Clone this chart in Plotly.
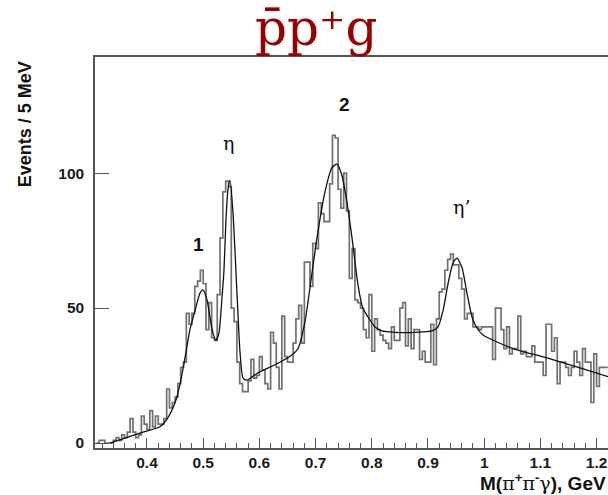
import plotly.graph_objects as go

# ---------------- data ----------------
bin_start = 0.31      # GeV, lower edge of first bin
bin_width = 0.005     # 5 MeV bins

events = [
    0, 1, 1, 0, 0, 0, 1, 2, 1, 3,
    2, 4, 9, 4, 2, 3, 10, 7, 5, 12,
    6, 10, 7, 7, 9, 20, 13, 15, 17, 22,
    28, 30, 48, 44, 48, 58, 60, 64, 59, 42,
    52, 39, 38, 55, 76, 93, 97, 95, 50, 45,
    30, 22, 19, 19, 23, 31, 24, 25, 32, 27,
    22, 20, 41, 37, 28, 20, 47, 32, 30, 30,
    37, 46, 51, 37, 67, 67, 58, 74, 72, 89,
    85, 82, 82, 96, 114, 113, 94, 87, 100, 86,
    61, 72, 53, 52, 50, 42, 39, 55, 34, 46,
    42, 40, 38, 37, 35, 43, 38, 38, 50, 52,
    36, 46, 35, 42, 42, 31, 34, 30, 30, 44,
    29, 46, 56, 57, 64, 68, 70, 66, 66, 61,
    57, 46, 48, 48, 43, 43, 42, 43, 43, 43,
    43, 31, 50, 50, 42, 35, 43, 33, 35, 35,
    47, 33, 34, 32, 32, 36, 30, 30, 30, 25,
    44, 44, 34, 39, 22, 30, 30, 28, 25, 28,
    34, 30, 25, 35, 30, 30, 15, 33, 21, 28,
    28, 28,
]

fit_mass = [0.334, 0.3875, 0.423, 0.437, 0.450, 0.459, 0.468, 0.4765, 0.4854,
            0.4943, 0.4996, 0.5068, 0.512, 0.5174, 0.5228, 0.528, 0.5335, 0.537,
            0.5405, 0.544, 0.5477, 0.553, 0.560, 0.5655, 0.571, 0.578, 0.5975,
            0.628, 0.658, 0.6687, 0.681, 0.6936, 0.704, 0.7167, 0.729, 0.738,
            0.747, 0.7559, 0.7648, 0.7755, 0.784, 0.7932, 0.8057, 0.818, 0.8413,
            0.8769, 0.9071, 0.9178, 0.9267, 0.9356, 0.9445, 0.9516, 0.9605,
            0.9694, 0.9783, 0.9872, 0.9979, 1.0068, 1.0512, 1.1117, 1.1705, 1.2203]
fit_events = [0, 3.7, 6, 9.3, 15, 22, 32, 42, 49,
              55.5, 56.7, 53, 46.7, 40.7, 38, 40.7, 54, 64,
              82.6, 93.7, 97.4, 85.5, 56, 33.7, 24, 23.3, 26,
              29, 32.6, 35, 44.8, 63, 78, 93, 102, 103.3,
              99, 89, 76, 58.5, 50, 46.7, 43, 41.5, 41,
              41, 41.5, 43, 49, 59, 66.7, 68.5, 65,
              55.5, 46.7, 42.6, 40, 39, 35, 31.5, 27.8, 24.6]

peak_labels = ["1", "η", "2", "η’"]
peak_x = [0.4925, 0.5456, 0.7509, 0.9605]
peak_y = [73.7, 111.0, 125.5, 87.4]
peak_bold = [True, False, True, False]

# ---------------- figure ----------------
edges = [bin_start + i * bin_width for i in range(len(events) + 1)]
step_y = events + [events[-1]]

fig = go.Figure()
fig.add_trace(go.Scatter(
    x=edges, y=step_y, mode="lines", line_shape="hv",
    line=dict(color="#707070", width=1.7), hoverinfo="skip", showlegend=False))
fig.add_trace(go.Scatter(
    x=fit_mass, y=fit_events, mode="lines", line_shape="spline",
    line=dict(color="#111111", width=1.3, smoothing=0.6),
    hoverinfo="skip", showlegend=False))

for t, x, y, b in zip(peak_labels, peak_x, peak_y, peak_bold):
    if b:
        font = dict(family="Liberation Sans, Arial, sans-serif", size=19,
                    color="#111111", weight="bold")
    else:
        font = dict(family="DejaVu Serif, serif", size=19, color="#111111")
    fig.add_annotation(x=x, y=y, text=t, showarrow=False, font=font,
                       xanchor="center", yanchor="middle")

# title
fig.add_annotation(xref="paper", yref="paper", x=0.431, y=1.075,
                   text="p\u0304p\u207Ag", showarrow=False,
                   xanchor="center", yanchor="middle",
                   font=dict(family="DejaVu Serif, Liberation Serif, serif",
                             size=50, color="#990000"))

# y title
fig.add_annotation(xref="paper", yref="paper", x=-0.136, y=0.995,
                   text="Events / 5 MeV", showarrow=False, textangle=-90,
                   xanchor="center", yanchor="top",
                   font=dict(family="Liberation Sans Narrow, Liberation Sans, Arial",
                             size=18, color="#111111", weight="bold"))

# x title
fig.add_annotation(xref="paper", yref="paper", x=1.0, y=-0.086,
                   text="M(<span style=\"font-family:DejaVu Serif;font-weight:normal\">π</span><sup>+</sup>"
                        "<span style=\"font-family:DejaVu Serif;font-weight:normal\">π</span><sup>-</sup>"
                        "<span style=\"font-family:DejaVu Serif;font-weight:normal\">γ</span>), GeV",
                   showarrow=False, xanchor="right", yanchor="middle",
                   font=dict(family="Liberation Sans, Arial", size=19,
                             color="#111111", weight="bold"))

axis_font = dict(family="Liberation Sans, Arial, sans-serif", size=15.5,
                 color="#1a1a1a", weight="bold")

fig.update_layout(
    width=608, height=495,
    margin=dict(l=95, r=0, t=57, b=47),
    paper_bgcolor="white", plot_bgcolor="white",
    xaxis=dict(range=[0.3075, 1.2203], tick0=0, dtick=0.1,
               ticks="inside", ticklen=10, tickwidth=1.2, tickcolor="#555555",
               minor=dict(dtick=0.02, ticks="inside", ticklen=5,
                          tickcolor="#555555", tickwidth=1),
               showline=True, linecolor="#555555", linewidth=1.5, mirror=True,
               showgrid=False, zeroline=False, tickfont=axis_font,
               ticklabelstandoff=0),
    yaxis=dict(range=[-1.85, 143], tickvals=[0, 50, 100],
               ticks="inside", ticklen=14, tickwidth=1.2, tickcolor="#555555",
               showline=True, linecolor="#555555", linewidth=1.5,
               showgrid=False, zeroline=False, tickfont=axis_font,
               ticklabelstandoff=6),
)

fig.write_html("out.html")
